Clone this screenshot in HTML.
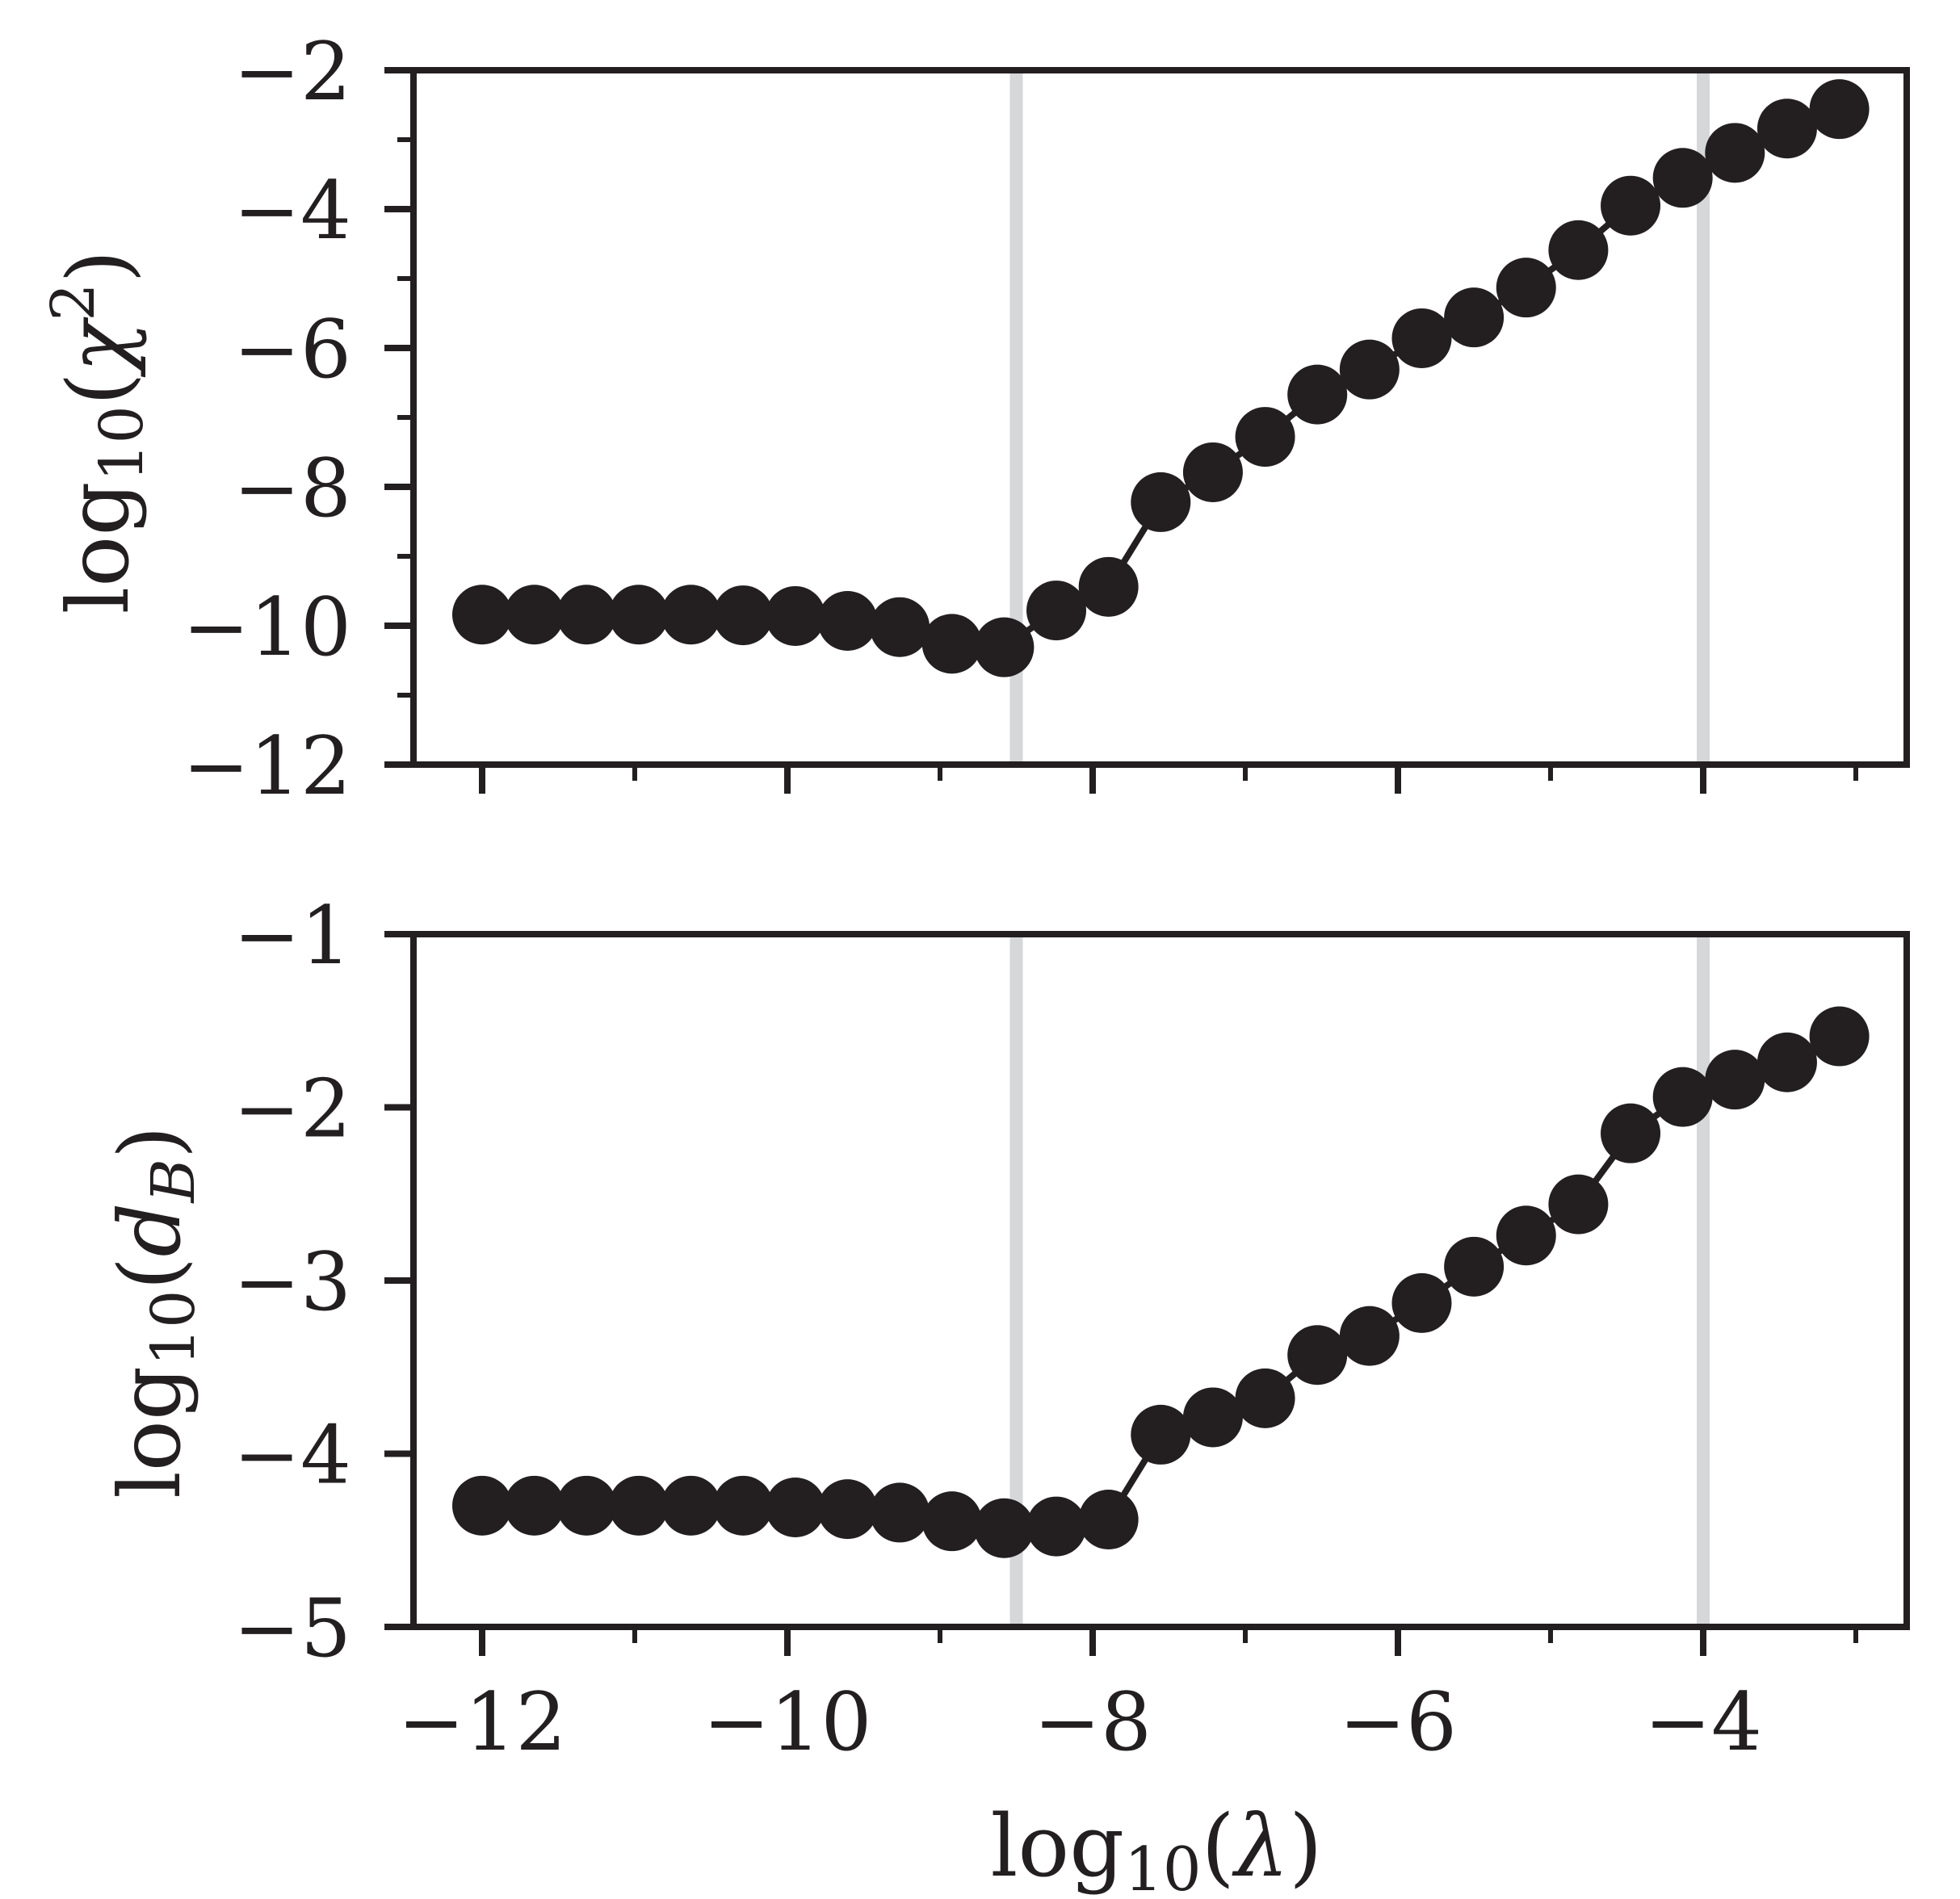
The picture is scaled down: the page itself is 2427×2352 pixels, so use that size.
<!DOCTYPE html>
<html>
<head>
<meta charset="utf-8">
<style>
html,body{margin:0;padding:0;background:#fff;}
svg{display:block;}
text{font-family:"DejaVu Serif","Liberation Serif",serif;fill:#231f20;}
</style>
</head>
<body>
<svg id="chart" width="2427" height="2352" viewBox="0 0 2427 2352" xmlns="http://www.w3.org/2000/svg">
  <rect width="2427" height="2352" fill="#fff"/>
  <g id="top"></g>
  <g id="bottom"></g>
  <text x="158" y="535" font-size="105" text-anchor="middle" transform="rotate(-90 158 535)">log<tspan font-size="74" dy="18">10</tspan><tspan dy="-18">(</tspan><tspan font-style="italic">χ</tspan><tspan font-size="74" dy="-42">2</tspan><tspan dy="42">)</tspan></text>
  <text x="222" y="1625" font-size="105" text-anchor="middle" transform="rotate(-90 222 1625)">log<tspan font-size="74" dy="18">10</tspan><tspan dy="-18">(</tspan><tspan font-style="italic">d</tspan><tspan font-size="74" font-style="italic" dy="18">B</tspan><tspan dy="-18">)</tspan></text>
  <text x="1432" y="2323" font-size="106" text-anchor="middle">log<tspan font-size="75" dy="18">10</tspan><tspan dy="-18">(</tspan><tspan font-style="italic">λ</tspan>)</text>
</svg>
<script>
const xStart = -12;
const xStep = 0.342;
const chi2Values = [-9.84,-9.84,-9.84,-9.84,-9.84,-9.85,-9.86,-9.93,-10.02,-10.26,-10.31,-9.78,-9.44,-8.22,-7.79,-7.28,-6.67,-6.31,-5.86,-5.56,-5.13,-4.59,-3.95,-3.55,-3.19,-2.84,-2.56];
const dbValues = [-4.30,-4.30,-4.30,-4.30,-4.30,-4.30,-4.31,-4.32,-4.34,-4.39,-4.43,-4.42,-4.38,-3.89,-3.79,-3.68,-3.43,-3.32,-3.13,-2.92,-2.74,-2.56,-2.15,-1.94,-1.84,-1.74,-1.59];
const vLines = [-8.5, -4];
const xMajorTicks = [-12,-10,-8,-6,-4];
const xMinorTicks = [-11,-9,-7,-5,-3];
const topYMajor = [-2,-4,-6,-8,-10,-12];
const topYMinor = [-3,-5,-7,-9,-11];
const botYMajor = [-1,-2,-3,-4,-5];

const NS = "http://www.w3.org/2000/svg";
const INK = "#231f20";
const X0 = 512, X1 = 2361;
function xs(v){ return 597 + (v + 12) * 189; }
function mk(tag, attrs, parent){
  const e = document.createElementNS(NS, tag);
  for (const k in attrs) e.setAttribute(k, attrs[k]);
  parent.appendChild(e);
  return e;
}
function fmt(v){ return (v < 0 ? "\u2212" : "") + Math.abs(v); }

function panel(g, top, bottom, ymin, ymax, values, yMajor, yMinor, showXLabels, prefix){
  const ys = v => bottom - (v - ymin) / (ymax - ymin) * (bottom - top);
  vLines.forEach(v => {
    const l = mk("line", {x1: xs(v), x2: xs(v), y1: top, y2: bottom, stroke: "#d6d7d9", "stroke-width": 16}, g);
    
    
  });
  const pts = values.map((v, i) => xs(xStart + i * xStep) + "," + ys(v)).join(" ");
  const pl = mk("polyline", {points: pts, fill: "none", stroke: INK, "stroke-width": 8}, g);
  
  
  values.forEach((v, i) => {
    const c = mk("circle", {cx: xs(xStart + i * xStep), cy: ys(v), r: 37, fill: INK}, g);
    
    
  });
  const fr = mk("rect", {x: X0, y: top, width: X1 - X0, height: bottom - top, fill: "none", stroke: INK, "stroke-width": 8}, g);
  
  
  xMajorTicks.forEach(v => {
    const t = mk("line", {x1: xs(v), x2: xs(v), y1: bottom, y2: bottom + 36, stroke: INK, "stroke-width": 8}, g);
    
    
    if (showXLabels){
      const tx = mk("text", {x: xs(v), y: bottom + 152, "font-size": 99, "text-anchor": "middle"}, g);
      tx.textContent = fmt(v);
      
      
    }
  });
  xMinorTicks.forEach(v => {
    const t = mk("line", {x1: xs(v), x2: xs(v), y1: bottom, y2: bottom + 20, stroke: INK, "stroke-width": 6}, g);
    
    
  });
  yMajor.forEach(v => {
    const t = mk("line", {x1: X0 - 36, x2: X0, y1: ys(v), y2: ys(v), stroke: INK, "stroke-width": 8}, g);
    
    
    const tx = mk("text", {x: 435, y: ys(v) + 36, "font-size": 99, "text-anchor": "end"}, g);
    tx.textContent = fmt(v);
    
    
  });
  yMinor.forEach(v => {
    const t = mk("line", {x1: X0 - 20, x2: X0, y1: ys(v), y2: ys(v), stroke: INK, "stroke-width": 6}, g);
    
    
  });
}
panel(document.getElementById("top"), 87, 947, -12, -2, chi2Values, topYMajor, topYMinor, false, "chi2");
panel(document.getElementById("bottom"), 1157, 2015, -5, -1, dbValues, botYMajor, [], true, "db");
</script>
</body>
</html>
